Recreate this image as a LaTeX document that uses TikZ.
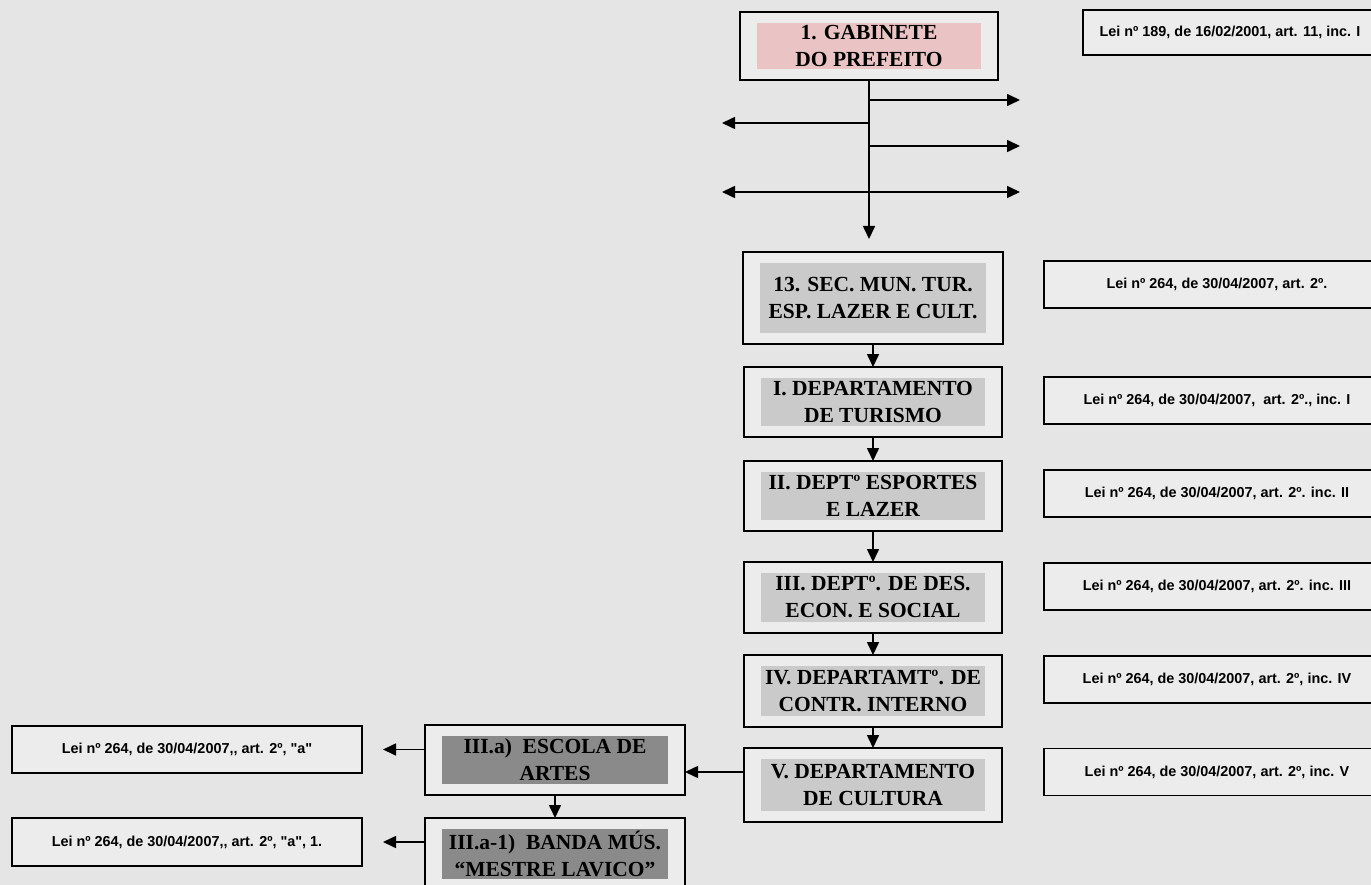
\documentclass[tikz,border=0pt]{standalone}
\usepackage{fontspec}
\newfontfamily\serifbold{Liberation Serif}
\newfontfamily\sansbold{Liberation Sans}
\usetikzlibrary{positioning, arrows.meta}
\definecolor{paper}{RGB}{229,229,229}
\definecolor{boxbg}{RGB}{236,236,236}
\definecolor{pinkfill}{RGB}{234,196,196}
\definecolor{grayfill}{RGB}{202,202,202}
\definecolor{darkfill}{RGB}{138,138,138}
\newcommand{\unitfont}{\serifbold\bfseries\fontsize{21.5}{27}\selectfont}
\newcommand{\leifont}{\sansbold\bfseries\fontsize{14.4}{17}\selectfont}
\tikzset{
->, % every connector is directed
>={Triangle[length=13pt,width=12pt]}, % filled heads as in the chart
x=1pt, y=-1pt, % one unit is one pixel of the chart, y going down
orgbox/.style={draw, line width=1.6pt, fill=boxbg, minimum width=258pt, minimum height=70pt, inner sep=0pt, outer sep=0pt, align=center, font=\unitfont,
  path picture={\fill[#1] ([shift={(17pt,-11pt)}]path picture bounding box.north west) rectangle ([shift={(-17pt,11pt)}]path picture bounding box.south east);}}, % a unit of the organogram
leibox/.style={draw, line width=1.4pt, fill=boxbg, minimum height=47pt, outer sep=0pt, font=\leifont}, % legal basis of a unit
link/.style={line width=1.6pt}, % connectors
}
\begin{document}
\begin{tikzpicture}
\path[use as bounding box, fill=paper] (0,0) rectangle (1371,885);

% units
\node[orgbox=pinkfill, minimum height=68pt] (gab) at (869,46) {1. GABINETE\\DO PREFEITO};
\node[orgbox=grayfill, minimum width=260pt, minimum height=92pt] (sec) at (873,298) {13. SEC. MUN. TUR.\\ESP. LAZER E CULT.};
\node[orgbox=grayfill, below=23pt of sec] (tur) {I. DEPARTAMENTO\\DE TURISMO};
\node[orgbox=grayfill, below=24pt of tur] (esp) {II. DEPTº ESPORTES\\E LAZER};
\node[orgbox=grayfill, minimum height=71pt, below=31pt of esp] (des) {III. DEPTº. DE DES.\\ECON. E SOCIAL};
\node[orgbox=grayfill, minimum height=72pt, below=22pt of des] (con) {IV. DEPARTAMTº. DE\\CONTR. INTERNO};
\node[orgbox=grayfill, minimum height=74pt, below=21pt of con] (cul) {V. DEPARTAMENTO\\DE CULTURA};
\node[orgbox=darkfill, minimum width=260pt] (esc) at (555,760) {III.a)~ ESCOLA DE\\ARTES};
\node[orgbox=darkfill, minimum width=260pt, minimum height=72pt, below=23pt of esc] (ban) {III.a-1)~ BANDA MÚS.\\“MESTRE LAVICO”};

% legal basis
\node[leibox, minimum width=294pt, minimum height=45pt] (lgab) at (1230,32.5) {Lei nº 189, de 16/02/2001, art. 11, inc. I};
\node[leibox, minimum width=346pt] (lsec) at (1217,284.5) {Lei nº 264, de 30/04/2007, art. 2º.};
\node[leibox, minimum width=346pt] (ltur) at (1217,400.5) {Lei nº 264, de 30/04/2007,~ art. 2º., inc. I};
\node[leibox, minimum width=346pt] (lesp) at (1217,493.5) {Lei nº 264, de 30/04/2007, art. 2º. inc. II};
\node[leibox, minimum width=346pt] (ldes) at (1217,586.5) {Lei nº 264, de 30/04/2007, art. 2º. inc. III};
\node[leibox, minimum width=346pt] (lcon) at (1217,679.5) {Lei nº 264, de 30/04/2007, art. 2º, inc. IV};
\node[leibox, minimum width=346pt] (lcul) at (1217,772) {Lei nº 264, de 30/04/2007, art. 2º, inc. V};
\node[leibox, minimum width=350pt] (lesc) at (187,749.5) {Lei nº 264, de 30/04/2007,, art. 2º, "a"};
\node[leibox, minimum width=350pt, minimum height=48pt] (lban) at (187,842) {Lei nº 264, de 30/04/2007,, art. 2º, "a", 1.};

% branches of the cabinet
\coordinate (e1) at (1020,100);
\coordinate (w1) at (722,123);
\coordinate (e2) at (1020,146);
\coordinate (w2) at (722,192);
\coordinate (e3) at (1020,192);
\draw[link, shorten >=13pt] (gab.south) -- (gab.south |- sec.north);
\draw[link] (gab.south |- e1) -- (e1);
\draw[link] (gab.south |- w1) -- (w1);
\draw[link] (gab.south |- e2) -- (e2);
\draw[link, <->] (w2) -- (e3);

% chain of departments
\foreach \a/\b in {sec/tur, tur/esp, esp/des, des/con, con/cul, esc/ban}
  \draw[link] (\a.south) -- (\b.north);
\draw[link] ([yshift=13pt]cul.west) coordinate (c1) -- (c1 -| esc.east);
\draw[link, shorten >=21pt] (esc.west |- lesc.east) -- (lesc.east);
\draw[link, shorten >=21pt] (ban.west |- lban.east) -- (lban.east);
\end{tikzpicture}
\end{document}
